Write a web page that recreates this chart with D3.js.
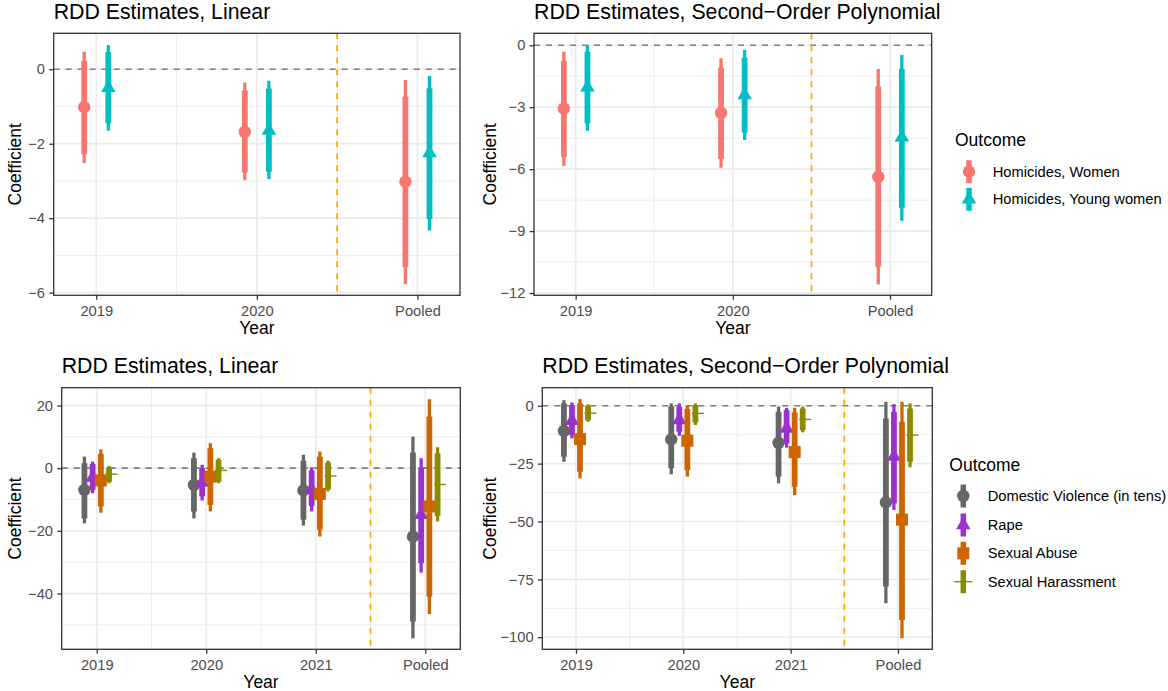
<!DOCTYPE html>
<html>
<head>
<meta charset="utf-8">
<script src="https://cdn.jsdelivr.net/npm/d3@7"></script>
<style>
  body { margin: 0; background: #fff; }
  text { font-family: "Liberation Sans", Arial, sans-serif; }
</style>
</head>
<body>
<div id="chart"></div>
<script>
const W = 1168, H = 691;

// ---- top row: homicides ----
const topYears = ["2019", "2020", "Pooled"];
const topOutcomes = ["Homicides, Women", "Homicides, Young women"];
const topColors = ["#F8766D", "#00BFC4"];
const topShapes = ["circle", "triangle"];

// linear
const topLinEst  = [[-1.02, -1.68, -3.02], [-0.50, -1.65, -2.25]];
const topLinLo90 = [[-2.28, -2.77, -5.32], [-1.45, -2.75, -4.02]];
const topLinHi90 = [[ 0.23, -0.57, -0.73], [ 0.46, -0.52, -0.51]];
const topLinLo95 = [[-2.52, -2.98, -5.77], [-1.65, -2.95, -4.33]];
const topLinHi95 = [[ 0.47, -0.36, -0.29], [ 0.65, -0.31, -0.18]];

// second-order polynomial
const topPolEst  = [[-3.07, -3.28, -6.37], [-2.04, -2.41, -4.46]];
const topPolLo90 = [[-5.40, -5.51, -10.73], [-3.78, -4.23, -7.87]];
const topPolHi90 = [[-0.76, -1.07, -2.00], [-0.31, -0.60, -1.15]];
const topPolLo95 = [[-5.85, -5.93, -11.58], [-4.14, -4.59, -8.50]];
const topPolHi95 = [[-0.31, -0.63, -1.15], [ 0.00, -0.23, -0.47]];

// ---- bottom row: other outcomes ----
const botYears = ["2019", "2020", "2021", "Pooled"];
const botOutcomes = ["Domestic Violence (in tens)", "Rape", "Sexual Abuse", "Sexual Harassment"];
const botColors = ["#666666", "#9932CC", "#CD6600", "#8B8B00"];
const botShapes = ["circle", "triangle", "square", "dash"];

// linear
const botLinEst  = [[-6.9, -5.3, -7.1, -21.8], [-3.0, -4.6, -6.8, -14.9], [-3.9, -2.7, -8.2, -12.2], [-1.9, -0.7, -2.5, -5.2]];
const botLinLo90 = [[-16.0, -13.8, -16.4, -48.9], [-6.9, -9.0, -12.0, -30.3], [-12.2, -11.7, -19.6, -41.0], [-4.3, -4.3, -6.7, -15.2]];
const botLinHi90 = [[1.6, 3.2, 2.4, 5.0], [1.4, 0.0, -0.7, 0.3], [4.6, 6.4, 3.7, 16.5], [0.3, 2.7, 1.8, 4.8]];
const botLinLo95 = [[-17.6, -16.0, -18.3, -54.3], [-8.0, -10.3, -13.8, -33.3], [-14.2, -13.8, -21.8, -46.5], [-4.8, -4.8, -7.4, -17.0]];
const botLinHi95 = [[3.7, 5.0, 4.3, 10.1], [2.1, 1.1, 0.3, 3.2], [6.0, 8.0, 5.3, 22.0], [0.7, 3.2, 2.4, 6.7]];

// second-order polynomial
const botPolEst  = [[-10.9, -14.5, -16.0, -41.7], [-6.5, -6.2, -9.8, -22.0], [-14.4, -15.1, -20.0, -49.2], [-3.2, -3.3, -5.9, -12.7]];
const botPolLo90 = [[-22.0, -27.0, -30.6, -78.1], [-12.7, -11.2, -16.3, -42.2], [-28.5, -27.8, -35.0, -92.5], [-6.2, -7.2, -10.5, -24.2]];
const botPolHi90 = [[1.0, -0.4, -2.6, -5.5], [0.3, -0.4, -1.9, -2.6], [1.0, -1.4, -2.9, -6.9], [0.0, 0.3, -1.2, -1.2]];
const botPolLo95 = [[-24.2, -29.6, -33.5, -85.3], [-14.1, -13.0, -18.1, -45.0], [-31.4, -30.6, -38.6, -100.4], [-6.9, -8.3, -11.5, -26.6]];
const botPolHi95 = [[2.4, 1.0, -0.4, 1.7], [1.4, 1.0, -0.9, 0.7], [2.9, 0.3, -0.9, 1.7], [0.6, 1.0, -0.4, 1.0]];

// tick values
const ticksTopLin = [-6, -4, -2, 0];
const ticksTopPol = [-12, -9, -6, -3, 0];
const ticksBotLin = [-40, -20, 0, 20];
const ticksBotPol = [-100, -75, -50, -25, 0];

const svg = d3.select("#chart").append("svg")
    .attr("width", W)
    .attr("height", H);

const thinW = 3.3, thickW = 5.8;
const smallFont = "14.7px";

function drawShape(g, shape, cx, cy, color, dashW) {
    if (shape === "circle") {
        g.append("circle").attr("cx", cx).attr("cy", cy).attr("r", 6.2).attr("fill", color);
    } else if (shape === "triangle") {
        const s = 14.5, h = s * Math.sqrt(3) / 2;
        g.append("path")
            .attr("d", `M${cx},${cy - 2 * h / 3}L${cx + s / 2},${cy + h / 3}L${cx - s / 2},${cy + h / 3}Z`)
            .attr("fill", color);
    } else if (shape === "square") {
        g.append("rect").attr("x", cx - 6).attr("y", cy - 6).attr("width", 12).attr("height", 12).attr("fill", color);
    } else {
        g.append("line")
            .attr("x1", cx - dashW * 0.3).attr("x2", cx + dashW * 0.7)
            .attr("y1", cy).attr("y2", cy)
            .attr("stroke", color).attr("stroke-width", 1.4);
    }
}

function drawPanel(o) {
    const b = o.box;
    const n = o.cats.length;
    const x = d3.scaleLinear().domain(o.xDomain).range([b.left, b.right]);
    const y = d3.scaleLinear().domain(o.yDomain).range([b.bottom, b.top]);
    const g = svg.append("g");

    // grid
    const step = o.yTicks[1] - o.yTicks[0];
    const yMinor = [o.yTicks[0] - step / 2].concat(o.yTicks.map(t => t + step / 2))
        .filter(v => v > o.yDomain[0] && v < o.yDomain[1]);
    const xMinor = d3.range(1, n).map(i => i + 0.5);

    g.selectAll(".ymin").data(yMinor).enter().append("line")
        .attr("x1", b.left).attr("x2", b.right)
        .attr("y1", d => y(d)).attr("y2", d => y(d))
        .attr("stroke", "#EBEBEB").attr("stroke-width", 0.9);
    g.selectAll(".xmin").data(xMinor).enter().append("line")
        .attr("y1", b.top).attr("y2", b.bottom)
        .attr("x1", d => x(d)).attr("x2", d => x(d))
        .attr("stroke", "#EBEBEB").attr("stroke-width", 0.9);
    g.selectAll(".ymaj").data(o.yTicks).enter().append("line")
        .attr("x1", b.left).attr("x2", b.right)
        .attr("y1", d => y(d)).attr("y2", d => y(d))
        .attr("stroke", "#EBEBEB").attr("stroke-width", 1.7);
    g.selectAll(".xmaj").data(d3.range(1, n + 1)).enter().append("line")
        .attr("y1", b.top).attr("y2", b.bottom)
        .attr("x1", d => x(d)).attr("x2", d => x(d))
        .attr("stroke", "#EBEBEB").attr("stroke-width", 1.7);

    // reference lines
    g.append("line")
        .attr("x1", b.left).attr("x2", b.right)
        .attr("y1", y(0)).attr("y2", y(0))
        .attr("stroke", "#7F7F7F").attr("stroke-width", 1.7)
        .attr("stroke-dasharray", "6,6");
    g.append("line")
        .attr("x1", x(n - 0.5)).attr("x2", x(n - 0.5))
        .attr("y1", b.top).attr("y2", b.bottom)
        .attr("stroke", "#FFA500").attr("stroke-width", 1.7)
        .attr("stroke-dasharray", "6,6");

    // estimates
    o.est.forEach((row, s) => {
        const sg = g.append("g");
        row.forEach((v, i) => {
            const cx = x(i + 1 + o.dodge[s]);
            sg.append("line").attr("x1", cx).attr("x2", cx)
                .attr("y1", y(o.lo95[s][i])).attr("y2", y(o.hi95[s][i]))
                .attr("stroke", o.colors[s]).attr("stroke-width", thinW);
            sg.append("line").attr("x1", cx).attr("x2", cx)
                .attr("y1", y(o.lo90[s][i])).attr("y2", y(o.hi90[s][i]))
                .attr("stroke", o.colors[s]).attr("stroke-width", thickW);
            drawShape(sg, o.shapes[s], cx, y(v), o.colors[s], 12);
        });
    });

    // border
    g.append("rect")
        .attr("x", b.left).attr("y", b.top)
        .attr("width", b.right - b.left).attr("height", b.bottom - b.top)
        .attr("fill", "none").attr("stroke", "#333333").attr("stroke-width", 1.3);

    // axes
    const yAxis = g.append("g").attr("transform", `translate(${b.left},0)`)
        .call(d3.axisLeft(y).tickValues(o.yTicks).tickFormat(d3.format("d"))
            .tickSize(4.4).tickPadding(4.3).tickSizeOuter(0));
    const xAxis = g.append("g").attr("transform", `translate(0,${b.bottom})`)
        .call(d3.axisBottom(x).tickValues(d3.range(1, n + 1)).tickFormat(i => o.cats[i - 1])
            .tickSize(4.4).tickPadding(5.5).tickSizeOuter(0));
    [yAxis, xAxis].forEach(a => {
        a.select(".domain").remove();
        a.selectAll(".tick line").attr("stroke", "#333333").attr("stroke-width", 1.3);
        a.selectAll(".tick text").attr("fill", "#4D4D4D").style("font-size", smallFont)
            .style("font-family", "'Liberation Sans', Arial, sans-serif");
    });

    // titles
    g.append("text").attr("x", b.left).attr("y", o.titleY)
        .style("font-size", "21.3px").attr("fill", "#000").text(o.title);
    g.append("text").attr("x", (b.left + b.right) / 2).attr("y", b.bottom + 38.6)
        .attr("text-anchor", "middle").style("font-size", "17.5px").text("Year");
    g.append("text")
        .attr("transform", `translate(${o.yTitleX},${(b.top + b.bottom) / 2}) rotate(-90)`)
        .attr("text-anchor", "middle").style("font-size", "17.5px").text("Coefficient");
}

function drawLegend(lx, titleY, keyX, textX, rows, labels, colors, shapes) {
    const g = svg.append("g");
    g.append("text").attr("x", lx).attr("y", titleY).style("font-size", "17.5px").text("Outcome");
    labels.forEach((lab, i) => {
        const cy = rows[i];
        g.append("line").attr("x1", keyX).attr("x2", keyX)
            .attr("y1", cy - 11.5).attr("y2", cy + 11.5)
            .attr("stroke", colors[i]).attr("stroke-width", 5.5);
        if (shapes[i] === "dash") {
            g.append("line").attr("x1", keyX - 9).attr("x2", keyX + 9)
                .attr("y1", cy).attr("y2", cy)
                .attr("stroke", colors[i]).attr("stroke-width", 1.4);
        } else {
            drawShape(g, shapes[i], keyX, cy, colors[i], 18);
        }
        g.append("text").attr("x", textX).attr("y", cy + 5)
            .style("font-size", smallFont).text(lab);
    });
}

const topDodge = [-0.075, 0.075];
const botDodge = [-0.1125, -0.0375, 0.0375, 0.1125];

drawPanel({
    box: {left: 53.7, top: 33.3, right: 460, bottom: 295.3},
    cats: topYears, xDomain: [0.735, 3.265], yDomain: [-6.07, 0.965], yTicks: ticksTopLin,
    est: topLinEst, lo90: topLinLo90, hi90: topLinHi90, lo95: topLinLo95, hi95: topLinHi95,
    colors: topColors, shapes: topShapes, dodge: topDodge,
    title: "RDD Estimates, Linear", titleY: 18.5, yTitleX: 20.5
});
drawPanel({
    box: {left: 534, top: 33.3, right: 931.7, bottom: 295.3},
    cats: topYears, xDomain: [0.735, 3.265], yDomain: [-12.11, 0.58], yTicks: ticksTopPol,
    est: topPolEst, lo90: topPolLo90, hi90: topPolHi90, lo95: topPolLo95, hi95: topPolHi95,
    colors: topColors, shapes: topShapes, dodge: topDodge,
    title: "RDD Estimates, Second\u2212Order Polynomial", titleY: 18.5, yTitleX: 495.5
});
drawPanel({
    box: {left: 61.7, top: 387.7, right: 460.3, bottom: 649.3},
    cats: botYears, xDomain: [0.68, 4.32], yDomain: [-57.8, 25.7], yTicks: ticksBotLin,
    est: botLinEst, lo90: botLinLo90, hi90: botLinHi90, lo95: botLinLo95, hi95: botLinHi95,
    colors: botColors, shapes: botShapes, dodge: botDodge,
    title: "RDD Estimates, Linear", titleY: 372.5, yTitleX: 20.5
});
drawPanel({
    box: {left: 542.3, top: 387.7, right: 932.3, bottom: 649.3},
    cats: botYears, xDomain: [0.686, 4.32], yDomain: [-105.2, 7.8], yTicks: ticksBotPol,
    est: botPolEst, lo90: botPolLo90, hi90: botPolHi90, lo95: botPolLo95, hi95: botPolHi95,
    colors: botColors, shapes: botShapes, dodge: botDodge,
    title: "RDD Estimates, Second\u2212Order Polynomial", titleY: 372.5, yTitleX: 495.5
});

drawLegend(955, 146, 969, 992.7, [171.7, 199.3], topOutcomes, topColors, topShapes);
drawLegend(949.3, 471, 963.3, 987.7, [496, 525, 553.3, 581.7], botOutcomes, botColors, botShapes);
</script>
</body>
</html>
